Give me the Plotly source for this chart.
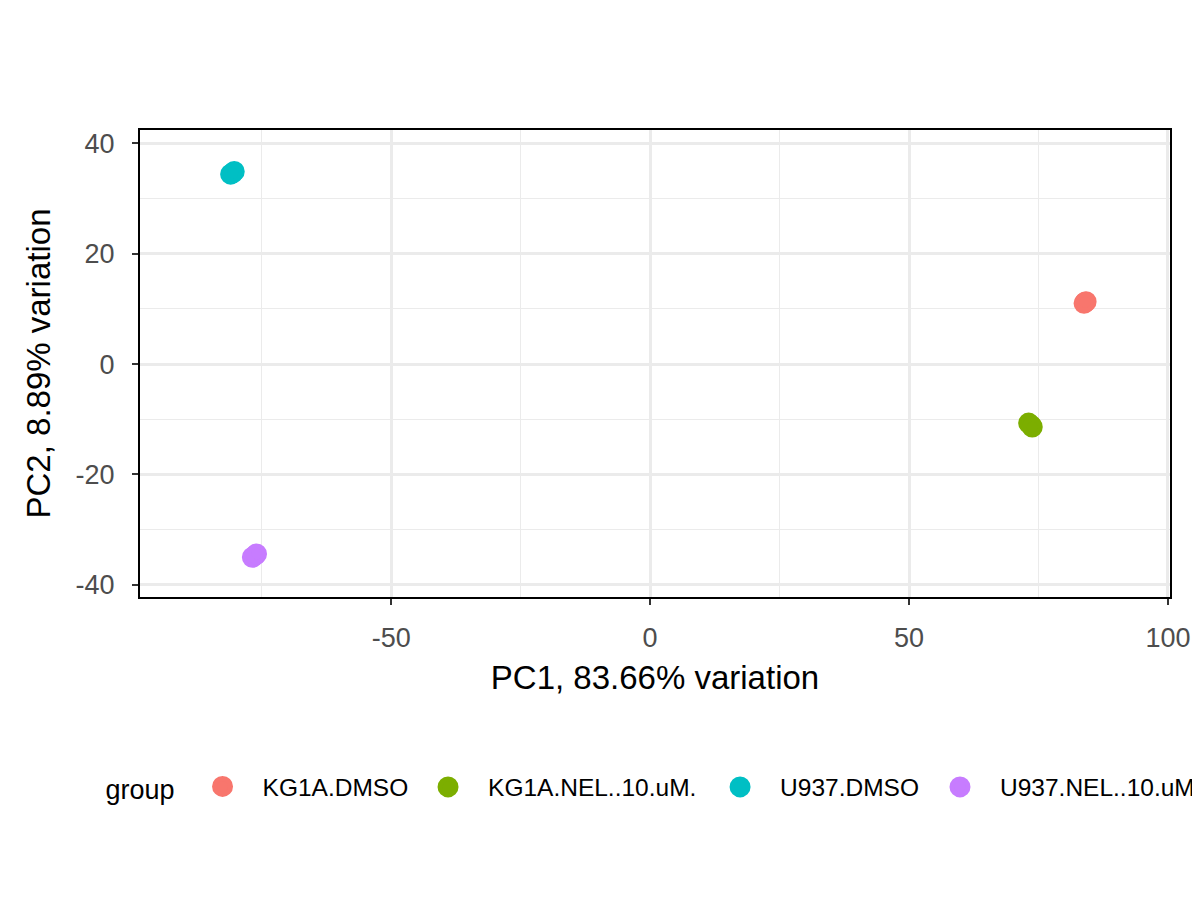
import plotly.graph_objects as go

groups = ["KG1A.DMSO", "KG1A.NEL..10.uM.", "U937.DMSO", "U937.NEL..10.uM."]
colors = ["#F8766D", "#7CAE00", "#00BFC4", "#C77CFF"]

# three replicates per group (PC1, PC2)
pc1 = {
    "KG1A.DMSO": [83.8, 84.2, 84.0],
    "KG1A.NEL..10.uM.": [73.1, 73.6, 73.8],
    "U937.DMSO": [-81.0, -80.3, -80.6],
    "U937.NEL..10.uM.": [-76.8, -76.2, -76.0],
}
pc2 = {
    "KG1A.DMSO": [11.0, 11.3, 11.2],
    "KG1A.NEL..10.uM.": [-10.7, -11.1, -11.4],
    "U937.DMSO": [34.4, 34.9, 34.6],
    "U937.NEL..10.uM.": [-35.0, -34.6, -34.4],
}

x_ticks = [-50, 0, 50, 100]
y_ticks = [-40, -20, 0, 20, 40]

# one legend box per group so the keys can be spaced like ggplot's
legend_ids = ["legend", "legend2", "legend3", "legend4"]
legend_x = [0.0801, 0.3356, 0.5806, 0.7651]

fig = go.Figure()
for g, c, lg in zip(groups, colors, legend_ids):
    fig.add_trace(go.Scatter(x=pc1[g], y=pc2[g], mode="markers", name=g, legend=lg,
                             showlegend=True,
                             marker=dict(color=c, size=16, line=dict(width=5, color=c))))

axis_common = dict(
    showline=True, linecolor="black", linewidth=2, mirror=True,
    showgrid=True, gridcolor="#EBEBEB", gridwidth=2.5,
    ticks="outside", ticklen=6, tickwidth=2, tickcolor="#333333",
    tickfont=dict(size=27, color="#4D4D4D"),
    zeroline=False, automargin=False,
    minor=dict(showgrid=True, gridcolor="#EBEBEB", gridwidth=1.2),
)

fig.update_xaxes(range=[-98.5, 100.4], tickvals=x_ticks, ticktext=[str(v) for v in x_ticks],
                 minor_tickvals=[-75, -25, 25, 75], ticklabelstandoff=10,
                 title=dict(text="PC1, 83.66% variation", font=dict(size=33, color="black"), standoff=13),
                 **axis_common)
fig.update_yaxes(range=[-42.2, 42.4], tickvals=y_ticks, ticktext=[str(v) for v in y_ticks],
                 minor_tickvals=[-30, -10, 10, 30], ticklabelstandoff=12,
                 title=dict(text="PC2, 8.89% variation", font=dict(size=33, color="black"), standoff=15),
                 **axis_common)

legend_common = dict(orientation="h", xref="container", yref="container",
                     xanchor="left", y=0.1267, yanchor="middle",
                     font=dict(size=24.5, color="black"), itemsizing="trace", itemwidth=70,
                     bgcolor="rgba(0,0,0,0)")

# page body adds an 8px margin, so the figure is 8px smaller and shifted
fig.update_layout(
    width=1192, height=892,
    margin=dict(l=132, r=30, t=122, b=303),
    plot_bgcolor="white", paper_bgcolor="white",
    font=dict(family="Liberation Sans, Arial, sans-serif"),
    showlegend=True,
    legend=dict(x=legend_x[0], title=dict(text="group", font=dict(size=27, color="black")),
                **legend_common),
    legend2=dict(x=legend_x[1], **legend_common),
    legend3=dict(x=legend_x[2], **legend_common),
    legend4=dict(x=legend_x[3], **legend_common),
)

fig.write_html("out.html")
